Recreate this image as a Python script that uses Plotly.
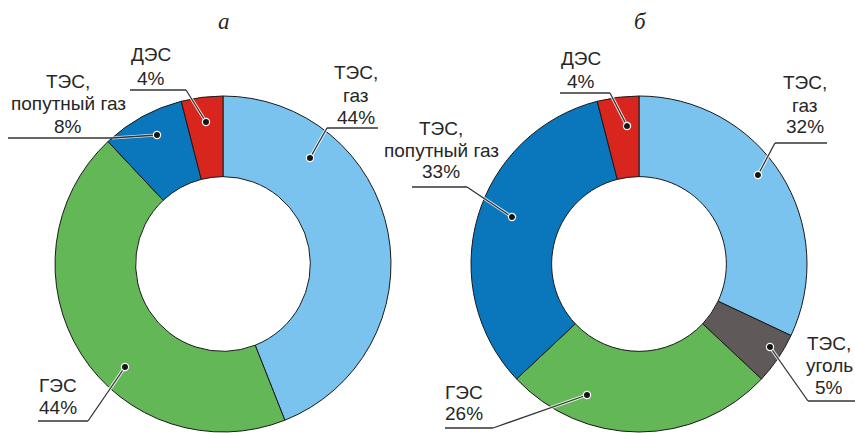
import plotly.graph_objects as go

# ---------------- data ----------------
labels_a = ["ТЭС, газ", "ГЭС", "ТЭС, попутный газ", "ДЭС"]
values_a = [44, 44, 8, 4]

labels_b = ["ТЭС, газ", "ТЭС, уголь", "ГЭС", "ТЭС, попутный газ", "ДЭС"]
values_b = [32, 5, 26, 33, 4]

titles = ["а", "б"]

# ---------------- style ----------------
W, H = 855, 433
colors = {
    "ТЭС, газ": "#79C3EE",
    "ТЭС, уголь": "#5F5959",
    "ГЭС": "#63B757",
    "ТЭС, попутный газ": "#0A77BD",
    "ДЭС": "#D8261F",
}
TEXT = "#262626"
LINE = "#333333"
FONT = "Liberation Sans, Arial, sans-serif"


def X(px):
    return px / W


def Y(py):
    return 1 - py / H


# pie placement (pixel centre x, top)
R = 168
pie_cx = [223, 639]
pie_top = 96

# label layout (pixel positions): centre x, first-line y, line step, underline (x0,x1,y), leader start side, dot
layout_a = {
    "ТЭС, газ": dict(cx=356, y=72, step=23, ul=(327, 378, 128), start="l", dot=(310, 158)),
    "ДЭС": dict(cx=151, y=55, step=23, ul=(130, 186, 90), start="r", dot=(206, 122)),
    "ТЭС, попутный газ": dict(cx=68, y=81, step=23, ul=(8, 112, 138), start="r", dot=(157, 135)),
    "ГЭС": dict(cx=58, y=385, step=22, ul=(38, 88, 421), start="r", dot=(125, 367)),
}
layout_b = {
    "ДЭС": dict(cx=581, y=59, step=22, ul=(560, 610, 93), start="r", dot=(627, 126)),
    "ТЭС, газ": dict(cx=805, y=83, step=22, ul=(775, 827, 143), start="l", dot=(758, 175)),
    "ТЭС, попутный газ": dict(cx=441, y=128, step=22, ul=(412, 467, 187), start="r", dot=(512, 217)),
    "ГЭС": dict(cx=464, y=392, step=21, ul=(445, 493, 428), start="r", dot=(587, 395)),
    "ТЭС, уголь": dict(cx=829, y=343, step=22, ul=(808, 855, 401), start="l", dot=(770, 347)),
}

fig = go.Figure()

for i, (labs, vals) in enumerate([(labels_a, values_a), (labels_b, values_b)]):
    cx = pie_cx[i]
    fig.add_trace(go.Pie(
        labels=labs,
        values=vals,
        sort=False,
        direction="clockwise",
        rotation=0,
        hole=0.52,
        textinfo="none",
        hoverinfo="label+percent",
        showlegend=False,
        marker=dict(colors=[colors[l] for l in labs], line=dict(color="#1a1a1a", width=1)),
        domain=dict(x=[X(cx - R), X(cx + R)], y=[Y(pie_top + 2 * R), Y(pie_top)]),
    ))

annotations = []
shapes_halo, shapes_line, shapes_dot = [], [], []

for labs, vals, lay in [(labels_a, values_a, layout_a), (labels_b, values_b, layout_b)]:
    for lab, v in zip(labs, vals):
        p = lay[lab]
        if ", " in lab:
            head, tail = lab.split(", ", 1)
            lines = [head + ",", tail, f"{v}%"]
        else:
            lines = [lab, f"{v}%"]
        for k, t in enumerate(lines):
            annotations.append(dict(
                x=X(p["cx"]), y=Y(p["y"] + k * p["step"]), xref="paper", yref="paper",
                text=t, showarrow=False, xanchor="center", yanchor="middle",
                font=dict(family=FONT, size=19, color=TEXT),
            ))
        x0, x1, yu = p["ul"]
        sx = x0 if p["start"] == "l" else x1
        dx, dy = p["dot"]
        shapes_line.append(dict(type="line", xref="paper", yref="paper",
                                x0=X(x0), x1=X(x1), y0=Y(yu), y1=Y(yu),
                                line=dict(color=LINE, width=1.3)))
        shapes_halo.append(dict(type="line", xref="paper", yref="paper",
                                x0=X(sx), x1=X(dx), y0=Y(yu), y1=Y(dy),
                                line=dict(color="rgba(255,255,255,0.8)", width=3.2)))
        shapes_line.append(dict(type="line", xref="paper", yref="paper",
                                x0=X(sx), x1=X(dx), y0=Y(yu), y1=Y(dy),
                                line=dict(color=LINE, width=1.3)))
        shapes_dot.append(dict(type="circle", xref="paper", yref="paper",
                               x0=X(dx - 3.6), x1=X(dx + 3.6), y0=Y(dy + 3.6), y1=Y(dy - 3.6),
                               fillcolor="#151515", line=dict(color="white", width=1.2)))

for t, cx, ty in zip(titles, [224, 640], [22, 22]):
    annotations.append(dict(
        x=X(cx), y=Y(ty), xref="paper", yref="paper", text=t, showarrow=False,
        xanchor="center", yanchor="middle",
        font=dict(family="Liberation Serif, Times New Roman, serif", size=23, color=TEXT, style="italic"),
    ))

fig.update_layout(
    width=W, height=H, autosize=False,
    margin=dict(l=0, r=0, t=0, b=0),
    paper_bgcolor="white", plot_bgcolor="white",
    annotations=annotations,
    shapes=shapes_halo + shapes_line + shapes_dot,
)

fig.write_html(
    "out.html",
    config={"displayModeBar": False},
    post_script="document.body.style.margin='0';document.body.style.overflow='hidden';",
)
